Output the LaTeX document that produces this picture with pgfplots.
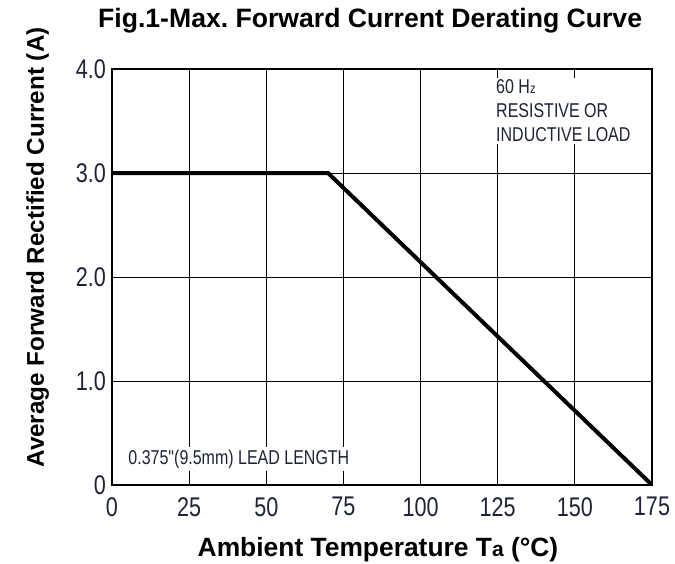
\documentclass[border=0pt]{standalone}
\usepackage{fontspec}
\setmainfont{Liberation Sans}
\newfontfamily\narrowfont[FakeStretch=0.8]{Liberation Sans}
\usepackage{pgfplots}
\pgfplotsset{compat=1.18}
\definecolor{tickink}{HTML}{1E2438}

\begin{document}
\frenchspacing
\begin{tikzpicture}
\begin{axis}[
  scale only axis,
  width=540pt, height=416pt,
  xmin=0, xmax=175, ymin=0, ymax=4,
  xtick={0,25,50,75,100,125,150,175},
  xticklabels={0,25,50,75,100,125,150,175},
  ytick={0,1,2,3,4},
  yticklabels={0,1.0,2.0,3.0,4.0},
  grid=major,
  major grid style={black, line width=1pt},
  axis line style={line width=1.3pt},
  major tick length=0pt,
  /pgf/number format/assume math mode=true,
  ticklabel style={font=\narrowfont\fontsize{27}{27}\selectfont, text=tickink, inner sep=0pt},
  xticklabel style={yshift=-12pt},
  yticklabel style={xshift=-6pt},
  title={Fig.1-Max. Forward Current Derating Curve},
  title style={font=\bfseries\fontsize{26.6}{27}\selectfont, at={(axis description cs:0.478,1.0865)}, anchor=base},
  xlabel={Ambient Temperature T{\fontsize{21}{21}\selectfont a} (°C)},
  xlabel style={font=\bfseries\fontsize{26.4}{27}\selectfont, at={(axis description cs:0.4926,-0.173)}, anchor=base},
  ylabel={Average Forward Rectified Current (A)},
  ylabel style={font=\bfseries\fontsize{24.2}{25}\selectfont, at={(axis description cs:-0.126,0.571)}, anchor=base},
]
\addplot[black, line width=4pt, line join=miter] coordinates {
  (0,3) (70,3) (175,0)
};
\node[fill=white, anchor=north west, align=left, inner sep=2pt,
      font=\narrowfont\fontsize{20}{24}\selectfont, text=tickink]
  at (axis cs:123.8,3.92)
  {60 H{\fontsize{14}{14}\selectfont z}\\RESISTIVE OR\\INDUCTIVE LOAD};
\node[fill=white, anchor=base west, inner sep=3pt,
      font=\narrowfont\fontsize{20}{20}\selectfont, text=tickink]
  at (axis cs:4.3,0.2) {0.375"(9.5mm) LEAD LENGTH};
\coordinate (o) at (rel axis cs:0,0);
\end{axis}
\pgfresetboundingbox
\path (o) ++(-112pt,-78pt) rectangle ++(675pt,563pt);
\end{tikzpicture}
\end{document}
